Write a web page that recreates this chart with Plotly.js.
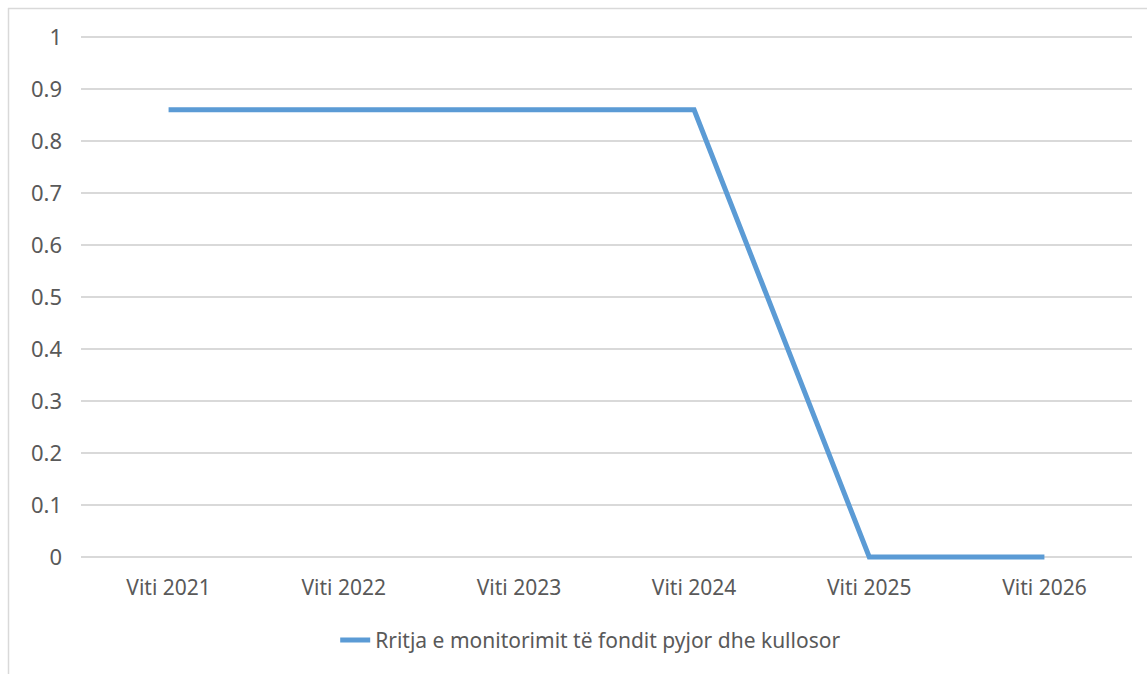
<!DOCTYPE html>
<html>
<head>
<meta charset="utf-8">
<script src="https://cdn.plot.ly/plotly-3.0.1.min.js"></script>
<style>
html,body{margin:0;padding:0;background:#fff;}
#chart{width:1147px;height:674px;}
</style>
</head>
<body>
<div id="chart"></div>
<script>
const categories = ["Viti 2021", "Viti 2022", "Viti 2023", "Viti 2024", "Viti 2025", "Viti 2026"];
const values = [0.86, 0.86, 0.86, 0.86, 0, 0];
const seriesName = "Rritja e monitorimit të fondit pyjor dhe kullosor";
const yTicks = [0, 0.1, 0.2, 0.3, 0.4, 0.5, 0.6, 0.7, 0.8, 0.9, 1];
const yTickText = ["0", "0.1", "0.2", "0.3", "0.4", "0.5", "0.6", "0.7", "0.8", "0.9", "1"];

const W = 1147, H = 674;
const padPx = 5;
const m = {l: 81, r: 15, t: 37 - padPx, b: 117 - padPx};
const pw = W - m.l - m.r, ph = H - m.t - m.b;
const pad = padPx / (ph - 2 * padPx);
const px = v => (v - m.l) / pw;
const py = v => (H - m.b - v) / ph;
const borderColor = "#d9d9d9";

const trace = {
  x: categories,
  y: values,
  type: "scatter",
  mode: "lines",
  name: seriesName,
  line: {color: "#5B9BD5", width: 5},
  showlegend: true
};

const layout = {
  width: W, height: H,
  margin: m,
  paper_bgcolor: "#fff",
  plot_bgcolor: "#fff",
  font: {family: "Noto Sans, sans-serif", size: 21, color: "#595959"},
  showlegend: true,
  xaxis: {
    type: "category",
    range: [-0.5, 5.5],
    showgrid: false,
    showline: false,
    zeroline: false,
    ticks: "",
    tickfont: {size: 21, color: "#595959"},
    ticklabelstandoff: 11,
    fixedrange: true
  },
  yaxis: {
    range: [-pad, 1 + pad],
    tickvals: yTicks,
    ticktext: yTickText,
    showgrid: true,
    gridcolor: "#d9d9d9",
    gridwidth: 1.3,
    zeroline: false,
    showline: false,
    ticks: "",
    tickfont: {size: 22, color: "#595959"},
    ticklabelstandoff: 18,
    fixedrange: true
  },
  legend: {
    orientation: "h",
    xref: "container", yref: "container",
    x: 0.515, xanchor: "center",
    y: 0.05, yanchor: "middle",
    font: {size: 21, color: "#595959"},
    bgcolor: "rgba(0,0,0,0)"
  },
  shapes: [
    {type: "line", xref: "paper", yref: "paper", x0: px(8.5), x1: px(8.5), y0: py(8), y1: py(H + 5), line: {color: borderColor, width: 1.5}},
    {type: "line", xref: "paper", yref: "paper", x0: px(8), x1: px(W + 5), y0: py(8.5), y1: py(8.5), line: {color: borderColor, width: 1.5}}
  ]
};

Plotly.newPlot("chart", [trace], layout, {displayModeBar: false, staticPlot: true});
</script>
</body>
</html>
